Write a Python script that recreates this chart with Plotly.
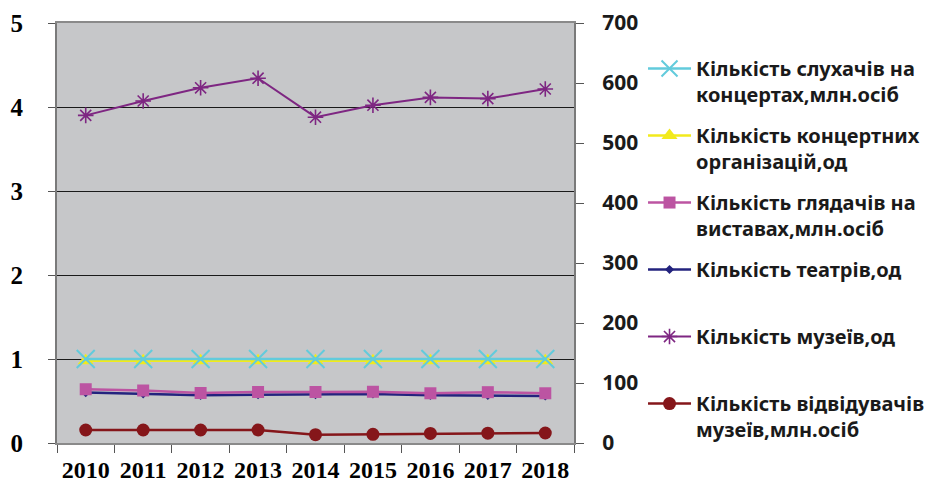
import plotly.graph_objects as go

years = ["2010", "2011", "2012", "2013", "2014", "2015", "2016", "2017", "2018"]

concert_listeners = [1.0, 1.0, 1.0, 1.0, 1.0, 1.0, 1.0, 1.0, 1.0]
concert_orgs = [0.98, 0.98, 0.98, 0.98, 0.98, 0.98, 0.98, 0.98, 0.98]
theatre_viewers = [0.64, 0.625, 0.595, 0.607, 0.607, 0.61, 0.592, 0.605, 0.592]
theatres = [0.60, 0.585, 0.567, 0.575, 0.576, 0.583, 0.567, 0.567, 0.56]
museums = [546, 570, 592, 608, 543, 563, 576, 574, 590]
museum_visitors = [0.155, 0.155, 0.155, 0.155, 0.099, 0.103, 0.114, 0.117, 0.119]

names = [
    "Кількість слухачів на<br>концертах,млн.осіб",
    "Кількість концертних<br>організацій,од",
    "Кількість глядачів на<br>виставах,млн.осіб",
    "Кількість театрів,од<br>\u00a0",
    "Кількість музеїв,од<br>\u00a0",
    "Кількість відвідувачів<br>музеїв,млн.осіб",
]

fig = go.Figure()

# drawn bottom-to-top; legend order fixed with legendrank
fig.add_trace(go.Scatter(x=years, y=museum_visitors, name=names[5], legendrank=6, legendgroup="g6",
                         mode="lines+markers", line=dict(color="#85161A", width=2.5),
                         marker=dict(symbol="circle", size=13, color="#85161A")))
fig.add_trace(go.Scatter(x=years, y=theatres, name=names[3], legendrank=4, legendgroup="g4",
                         mode="lines+markers", line=dict(color="#23237E", width=2.5),
                         marker=dict(symbol="diamond", size=7, color="#23237E")))
fig.add_trace(go.Scatter(x=years, y=theatre_viewers, name=names[2], legendrank=3, legendgroup="g3",
                         mode="lines+markers", line=dict(color="#BC54A2", width=2.5),
                         marker=dict(symbol="square", size=12, color="#BC54A2")))
fig.add_trace(go.Scatter(x=years, y=concert_orgs, name=names[1], legendrank=2, legendgroup="g2",
                         mode="lines+markers", line=dict(color="#F2EA1C", width=2.5),
                         marker=dict(symbol="triangle-up", size=14, color="#F2EA1C")))
fig.add_trace(go.Scatter(x=years, y=concert_listeners, name=names[0], legendrank=1, legendgroup="g1",
                         mode="lines+markers", line=dict(color="#62CBDC", width=2.5),
                         marker=dict(symbol="x-thin", size=18, line=dict(color="#62CBDC", width=2))))
fig.add_trace(go.Scatter(x=years, y=museums, name=names[4], legendrank=5, legendgroup="g5", yaxis="y2",
                         mode="lines+markers", line=dict(color="#7E2682", width=2),
                         marker=dict(symbol="asterisk-open", size=13, line=dict(color="#7E2682", width=1.6))))

serif_bold = dict(family="Liberation Serif", size=25, color="black", weight="bold")
xtick_font = dict(family="Liberation Serif", size=24, color="black", weight="bold")
sans_bold = dict(family="Noto Sans", size=21, color="#1a1a1a", weight="bold")

fig.update_layout(
    width=933, height=476,
    margin=dict(l=49, r=367, t=15, b=41, autoexpand=False),
    paper_bgcolor="white",
    plot_bgcolor="#C6C7C9",
    showlegend=True,
    legend=dict(
        x=1.1335, xanchor="left", y=0.938, yanchor="top",
        font=dict(family="Noto Sans", size=20, color="#1a1a1a", weight="bold"),
        traceorder="grouped",
        tracegroupgap=12,
        valign="top",
        itemwidth=43,
        maxheight=476,
        bgcolor="rgba(0,0,0,0)",
    ),
    xaxis=dict(
        type="category", range=[-0.5, 8.5], automargin=False,
        showline=True, mirror=True, linecolor="#8A8A8A", linewidth=2,
        ticks="outside", tickson="boundaries", ticklen=8, tickcolor="#555", tickwidth=1,
        tickfont=xtick_font, tickangle=0, showgrid=False, ticklabelstandoff=4,
    ),
    yaxis=dict(
        range=[0, 5], dtick=1, tick0=0, automargin=False,
        showline=True, linecolor="#7A7A7A", linewidth=2,
        ticks="outside", ticklen=7, tickcolor="#555",
        showgrid=True, gridcolor="#1a1a1a", gridwidth=1,
        zeroline=False, tickfont=serif_bold, ticklabelstandoff=20,
    ),
    yaxis2=dict(
        range=[0, 700], dtick=100, tick0=0, overlaying="y", side="right", automargin=False,
        showline=True, linecolor="#7A7A7A", linewidth=2,
        ticks="outside", ticklen=8, tickcolor="#555",
        showgrid=False, zeroline=False, tickfont=sans_bold, ticklabelstandoff=14,
    ),
)

fig.write_html("out.html")
